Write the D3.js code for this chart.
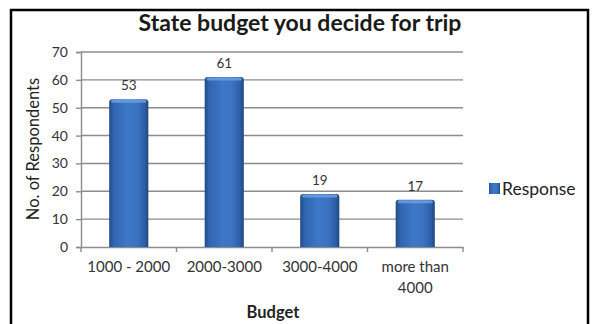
<!DOCTYPE html>
<html><head><meta charset="utf-8">
<script src="https://cdn.jsdelivr.net/npm/d3@7"></script>
<style>body{margin:0;background:#fff}svg{display:block}</style>
</head><body>
<script>
const categories = ["1000 - 2000", "2000-3000", "3000-4000", "more than 4000"];
const values = [53, 61, 19, 17];
const yTicks = [0, 10, 20, 30, 40, 50, 60, 70];
const seriesName = "Response";
const titleText = "State budget you decide for trip";
const xTitle = "Budget";
const yTitle = "No. of Respondents";

const W = 595, H = 324;
const svg = d3.select("body").append("svg").attr("width", W).attr("height", H);
const font = "Lato, 'Open Sans', sans-serif";
const L = 81, R = 463, B = 247, T = 52;

svg.append("rect").attr("x", 11).attr("y", 10).attr("width", 577).attr("height", 330)
  .attr("fill", "#fff").attr("stroke", "#000").attr("stroke-width", 2.5);

const defs = svg.append("defs");
const g1 = defs.append("linearGradient").attr("id", "bar").attr("x1", 0).attr("x2", 1).attr("y1", 0).attr("y2", 0);
g1.append("stop").attr("offset", "0%").attr("stop-color", "#214c88");
g1.append("stop").attr("offset", "12%").attr("stop-color", "#3165b0");
g1.append("stop").attr("offset", "45%").attr("stop-color", "#3d77c7");
g1.append("stop").attr("offset", "70%").attr("stop-color", "#3b74c3");
g1.append("stop").attr("offset", "90%").attr("stop-color", "#2e5fa8");
g1.append("stop").attr("offset", "100%").attr("stop-color", "#1f4780");

const x = d3.scaleBand().domain(categories).range([L, R]).paddingInner(0.59).paddingOuter(0.295);
const y = d3.scaleLinear().domain([0, 70]).range([B, T]);

// gridlines
svg.append("g").selectAll("line").data(yTicks.filter(d => d > 0)).join("line")
  .attr("x1", L).attr("x2", R).attr("y1", d => y(d)).attr("y2", d => y(d))
  .attr("stroke", "#8c8c8c").attr("stroke-width", 1.4);

// y axis
const yAxis = svg.append("g").attr("transform", `translate(${L},0)`)
  .call(d3.axisLeft(y).tickValues(yTicks).tickSize(5).tickPadding(8));
yAxis.select(".domain").attr("stroke", "#8c8c8c").attr("stroke-width", 1.4);
yAxis.selectAll(".tick line").attr("stroke", "#8c8c8c").attr("stroke-width", 1.4);
yAxis.selectAll("text").attr("font-family", font).attr("font-size", 14).attr("fill", "#333");

// x axis
const xAxis = svg.append("g").attr("transform", `translate(0,${B})`)
  .call(d3.axisBottom(x).tickSize(0).tickFormat(""));
xAxis.select(".domain").attr("stroke", "#8c8c8c").attr("stroke-width", 1.4);
const step = x.step();
const bounds = d3.range(categories.length + 1).map(i => L + i * (R - L) / categories.length);
svg.append("g").selectAll("line").data(bounds).join("line")
  .attr("x1", d => d).attr("x2", d => d).attr("y1", B).attr("y2", B + 5)
  .attr("stroke", "#8c8c8c").attr("stroke-width", 1.4);

// x labels
const xl = svg.append("g").selectAll("text").data(categories).join("text")
  .attr("x", d => x(d) + x.bandwidth() / 2).attr("y", 272)
  .attr("text-anchor", "middle").attr("font-family", font).attr("font-size", 15).attr("fill", "#333");
xl.each(function (d) {
  const t = d3.select(this);
  const cx = x(d) + x.bandwidth() / 2;
  if (d === "more than 4000") {
    t.append("tspan").attr("x", cx).attr("dy", 0).text("more than");
    t.append("tspan").attr("x", cx).attr("dy", 21).text("4000");
  } else t.text(d);
});

// bars
const bars = svg.append("g").selectAll("g").data(categories).join("g");
bars.append("path")
  .attr("d", (d, i) => {
    const x0 = x(d), x1 = x(d) + x.bandwidth(), yt = y(values[i]), yb = y(0), r = 3;
    return `M${x0},${yb}L${x0},${yt + r}Q${x0},${yt} ${x0 + r},${yt}L${x1 - r},${yt}Q${x1},${yt} ${x1},${yt + r}L${x1},${yb}Z`;
  })
  .attr("fill", "url(#bar)");
bars.append("rect")
  .attr("x", d => x(d) + 2).attr("width", x.bandwidth() - 4)
  .attr("y", (d, i) => y(values[i]) + 0.5).attr("height", 3)
  .attr("rx", 1.5)
  .attr("fill", "#6f9ee0").attr("opacity", 0.85);

// value labels
svg.append("g").selectAll("text").data(categories).join("text")
  .attr("x", d => x(d) + x.bandwidth() / 2).attr("y", (d, i) => y(values[i]) - 9)
  .attr("text-anchor", "middle").attr("font-family", font).attr("font-size", 13.5).attr("fill", "#333")
  .text((d, i) => values[i]);

// title
svg.append("text").attr("x", 300).attr("y", 31).attr("text-anchor", "middle")
  .attr("font-family", font).attr("font-weight", "bold").attr("font-size", 23).attr("fill", "#1a1a1a")
  .text(titleText);

// axis titles
svg.append("text").attr("x", 273).attr("y", 318).attr("text-anchor", "middle")
  .attr("font-family", font).attr("font-weight", "bold").attr("font-size", 16.5).attr("fill", "#222")
  .text(xTitle);
svg.append("text").attr("transform", "translate(39,149) rotate(-90)").attr("text-anchor", "middle")
  .attr("font-family", font).attr("font-size", 16.5).attr("fill", "#222")
  .text(yTitle);

// legend
svg.append("rect").attr("x", 489).attr("y", 183).attr("width", 11).attr("height", 11).attr("fill", "url(#bar)");
svg.append("text").attr("x", 502).attr("y", 194.5).attr("font-family", font).attr("font-size", 17.5).attr("fill", "#222")
  .text(seriesName);
</script>
</body></html>
